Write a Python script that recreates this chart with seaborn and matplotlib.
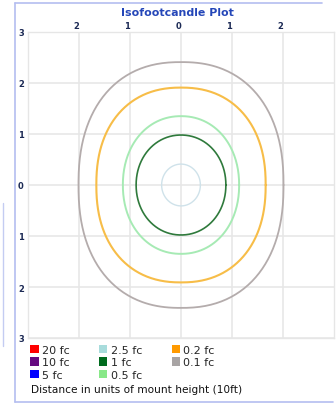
import numpy as np
import pandas as pd
import matplotlib.pyplot as plt
import seaborn as sns
from matplotlib.patches import Patch
from matplotlib.lines import Line2D
from matplotlib.ticker import FuncFormatter

# legend entries (all levels) and their swatch colours
levels = ["20 fc", "10 fc", "5 fc", "2.5 fc", "1 fc", "0.5 fc", "0.2 fc", "0.1 fc"]
level_colors = ["#ff0000", "#660a80", "#0000ff", "#a8dcdc", "#006b1e", "#88e888", "#ff9a00", "#a8a4a4"]

# contours that are visible in the plot
contour_fc = ["2.5 fc", "1 fc", "0.5 fc", "0.2 fc", "0.1 fc"]
half_width = [0.38, 0.88, 1.14, 1.66, 2.01]    # mount heights
half_height = [0.41, 0.98, 1.35, 1.91, 2.41]
roundness = [2.0, 2.05, 2.1, 2.25, 2.3]        # superellipse exponent
line_colors = ["#cfe2ea", "#2f7a3c", "#a6eab4", "#f7bd48", "#b4acac"]
line_widths = [1.0, 1.2, 1.4, 1.5, 1.3]

x_ticks = [-2, -1, 0, 1, 2]
y_ticks = [-3, -2, -1, 0, 1, 2, 3]

sns.set_style("white")
plt.rcParams['font.family'] = ['DejaVu Sans']

# build outline points for every contour
t = np.linspace(0, 2 * np.pi, 361)
rows = []
for name, a, b, n in zip(contour_fc, half_width, half_height, roundness):
    c, s = np.cos(t), np.sin(t)
    xs = a * np.sign(c) * np.abs(c) ** (2 / n)
    ys = b * np.sign(s) * np.abs(s) ** (2 / n)
    for i, (xx, yy) in enumerate(zip(xs, ys)):
        rows.append({"level": name, "order": i, "x": xx, "y": yy})
df = pd.DataFrame(rows)

fig = plt.figure(figsize=(3.36, 4.06), dpi=100)
ax = fig.add_axes([28 / 336, 1 - 339 / 406, 306 / 336, 306 / 406])

for name, col, lw in zip(contour_fc, line_colors, line_widths):
    sub = df[df.level == name]
    sns.lineplot(data=sub, x="x", y="y", sort=False, estimator=None,
                 color=col, linewidth=lw, ax=ax, legend=False)

ax.set_xlim(-3, 3)
ax.set_ylim(-3, 3)
ax.set_xticks(x_ticks)
ax.set_yticks(y_ticks)
fmt = FuncFormatter(lambda v, p: f"{abs(int(round(v)))}")
ax.xaxis.set_major_formatter(fmt)
ax.yaxis.set_major_formatter(fmt)
ax.xaxis.tick_top()
ax.tick_params(axis="both", length=0, labelsize=6, labelcolor="#1c2a55")
ax.tick_params(axis="x", pad=1.5)
ax.tick_params(axis="y", pad=3)
for lab in ax.get_xticklabels():
    lab.set_ha("right")
    lab.set_fontweight("bold")
for lab in ax.get_yticklabels():
    lab.set_fontweight("bold")
ax.grid(True, color="#e6e6e6", linewidth=1.1)
ax.set_axisbelow(True)
for sp in ax.spines.values():
    sp.set_color("#e6e6e6")
    sp.set_linewidth(1.0)
ax.set_xlabel("")
ax.set_ylabel("")

fig.text(177 / 336, 1 - 13 / 406, "Isofootcandle Plot", ha="center", va="center",
         fontsize=7.9, fontweight="bold", color="#2446b8")

handles = [Patch(facecolor=c, edgecolor="none") for c in level_colors]
fig.legend(handles, levels, ncol=3, loc="upper left",
           bbox_to_anchor=(28 / 336, 1 - 344 / 406), frameon=False,
           fontsize=8, handlelength=0.75, handleheight=0.75, handletextpad=0.3,
           labelspacing=0.2, columnspacing=2.65, borderaxespad=0, borderpad=0.2)
fig.text(31 / 336, 1 - 390 / 406, "Distance in units of mount height (10ft)",
         ha="left", va="center", fontsize=7.6, color="#111111")

# light blue frame around the panel
frame = dict(transform=fig.transFigure, color="#b4bef0", linewidth=1.2)
fig.add_artist(Line2D([15 / 336, 15 / 336], [1 - 4 / 406, 1 - 403 / 406], **frame))
fig.add_artist(Line2D([15 / 336, 322 / 336], [1 - 4 / 406, 1 - 4 / 406], **frame))
fig.add_artist(Line2D([15 / 336, 333 / 336], [1 - 403 / 406, 1 - 403 / 406], **frame))
fig.add_artist(Line2D([3 / 336, 3 / 336], [1 - 204 / 406, 1 - 347 / 406],
                      transform=fig.transFigure, color="#c4ccf2", linewidth=1.0))

fig.savefig("out.png", dpi=100)
